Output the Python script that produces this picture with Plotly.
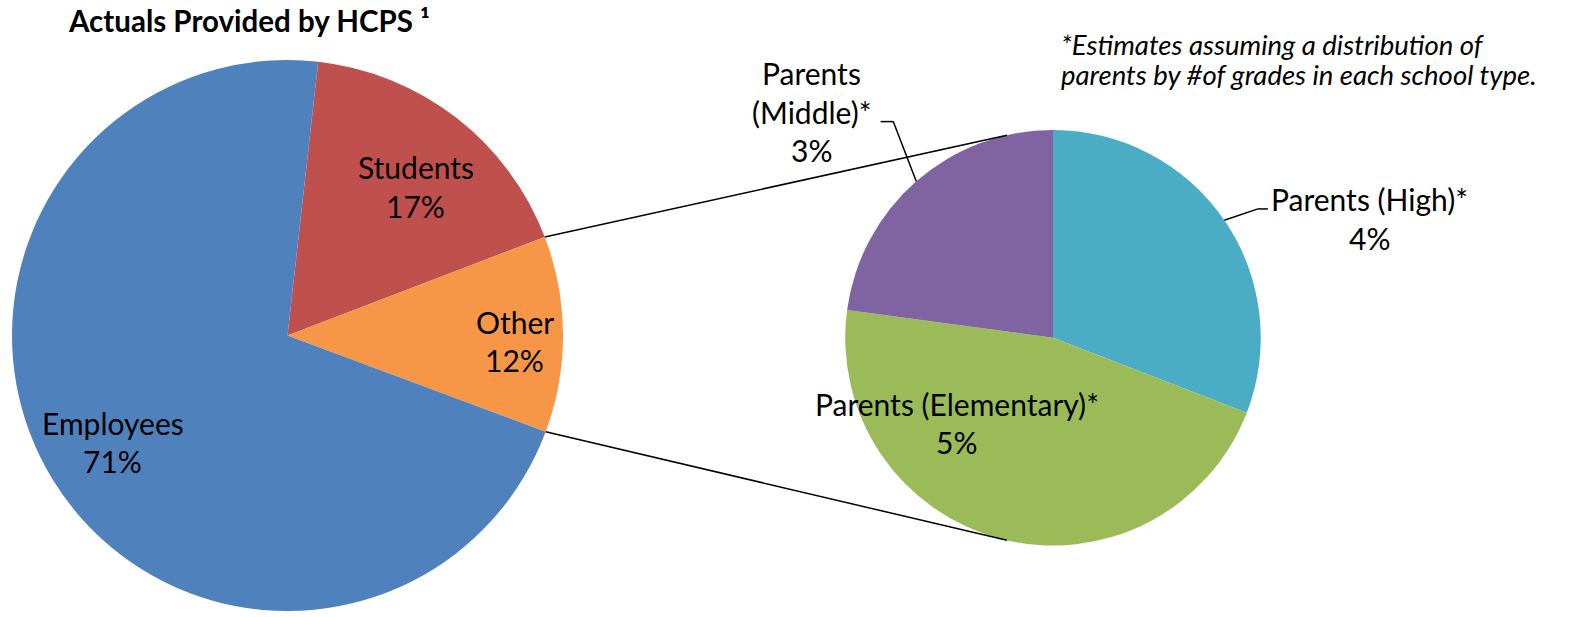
import math
import plotly.graph_objects as go

W, H = 1577, 617

# ---------------- data ----------------
main_labels = ["Students", "Other", "Employees"]
main_values = [17.4, 11.5, 71.1]          # % of all
main_colors = ["#C0504D", "#F79646", "#4F81BD"]

sub_labels = ["Parents (High)*", "Parents (Elementary)*", "Parents (Middle)*"]
sub_label_lines = [["Parents (High)*"], ["Parents (Elementary)*"], ["Parents", "(Middle)*"]]
sub_values = [3.55, 5.32, 2.63]           # % of all (breakdown of "Other")
sub_colors = ["#4BACC6", "#9BBB59", "#8064A2"]

title_text = "Actuals Provided by HCPS ¹"
note_lines = ["*Estimates assuming a distribution of",
              "parents by #of grades in each school type."]

# ---------------- layout / style ----------------
FONT = "Lato, Carlito, Calibri, sans-serif"
LABEL_SIZE = 30
LINE_GAP = 38.5
MAIN_DOMAIN = dict(x=[12 / W, 563 / W], y=[6 / H, 557 / H])
SUB_DOMAIN = dict(x=[845 / W, 1261 / W], y=[71.5 / H, 487 / H])
MAIN_ROT = 6.4
SUB_ROT = 0.0
CONNECT_SUB_ANGLE = 12.8
# label placement relative to slice mid angle: (angle offset deg, radius fraction)
main_label_pos = [(3.0, 0.713), (1.7, 0.826), (0.2, 0.744)]
sub_label_pos = [(13.8, 1.63), (34.1, 0.618), (-5.7, 1.59)]
# leader lines for outside labels: (elbow dx, dy), (end dx, dy) relative to label center
sub_leaders = [((-112, -9.5), (-102, -9.5)), None, ((81.3, 9.7), (68.7, 9.7))]


def geom(domain):
    x0, x1 = domain["x"]
    y0, y1 = domain["y"]
    w = W * (x1 - x0)
    h = H * (y1 - y0)
    r = min(w, h) / 2
    cx = W * (x0 + x1) / 2
    cy = H * (1 - y0) - h / 2
    return cx, cy, r


def slice_angles(values, rotation):
    tot = sum(values)
    a = rotation
    out = []
    for v in values:
        b = a + v / tot * 360
        out.append((a, b))
        a = b
    return out


def pt(cx, cy, rr, ang):
    t = math.radians(ang)
    return cx + rr * math.sin(t), cy - rr * math.cos(t)


def px2paper(x, y):
    return x / W, 1 - y / H


fig = go.Figure()
fig.add_trace(go.Pie(
    labels=main_labels, values=main_values, sort=False, direction="clockwise",
    rotation=MAIN_ROT, domain=MAIN_DOMAIN, textinfo="none",
    marker=dict(colors=main_colors, line=dict(width=0)), showlegend=False,
))
fig.add_trace(go.Pie(
    labels=sub_labels, values=sub_values, sort=False, direction="clockwise",
    rotation=SUB_ROT, domain=SUB_DOMAIN, textinfo="none",
    marker=dict(colors=sub_colors, line=dict(width=0)), showlegend=False,
))

shapes = []
annotations = []

mcx, mcy, mr = geom(MAIN_DOMAIN)
scx, scy, sr = geom(SUB_DOMAIN)
m_ang = slice_angles(main_values, MAIN_ROT)
s_ang = slice_angles(sub_values, SUB_ROT)


def add_line(p1, p2):
    x1, y1 = px2paper(*p1)
    x2, y2 = px2paper(*p2)
    shapes.append(dict(type="line", xref="paper", yref="paper", x0=x1, y0=y1, x1=x2, y1=y2,
                       line=dict(color="black", width=1.5)))


def add_text(x, y, text, size=LABEL_SIZE, xanchor="center", italic=False, bold=False):
    xp, yp = px2paper(x, y)
    if bold:
        text = "<b>" + text + "</b>"
    if italic:
        text = "<i>" + text + "</i>"
    annotations.append(dict(x=xp, y=yp, xref="paper", yref="paper", text=text,
                            showarrow=False, xanchor=xanchor, yanchor="middle",
                            font=dict(family=FONT, size=size, color="black")))


def add_label(cx, cy, lines):
    n = len(lines)
    for i, ln in enumerate(lines):
        add_text(cx, cy + (i - (n - 1) / 2) * LINE_GAP, ln)


# connector lines between "Other" slice and the breakdown pie
oi = main_labels.index("Other")
a0, a1 = m_ang[oi]
add_line(pt(mcx, mcy, mr, a0), pt(scx, scy, sr, -CONNECT_SUB_ANGLE))
add_line(pt(mcx, mcy, mr, a1), pt(scx, scy, sr, 180 + CONNECT_SUB_ANGLE))

# main pie labels
for (a, b), lab, v, (off, rf) in zip(m_ang, main_labels, main_values, main_label_pos):
    mid = (a + b) / 2
    x, y = pt(mcx, mcy, mr * rf, mid + off)
    add_label(x, y, [lab, f"{v:.0f}%"])

# sub pie labels
for (a, b), lines, v, (off, rf), lead in zip(s_ang, sub_label_lines, sub_values, sub_label_pos, sub_leaders):
    mid = (a + b) / 2
    x, y = pt(scx, scy, sr * rf, mid + off)
    add_label(x, y, lines + [f"{v:.0f}%"])
    if lead:
        start = pt(scx, scy, sr, mid)
        elbow = (x + lead[0][0], y + lead[0][1])
        end = (x + lead[1][0], y + lead[1][1])
        add_line(start, elbow)
        add_line(elbow, end)

# title and note
add_text(66, 21, title_text, size=29.5, xanchor="left", bold=True)
for i, ln in enumerate(note_lines):
    add_text(1059, 45 + i * 29, ln, size=27.5, xanchor="left", italic=True)

fig.update_layout(
    width=W, height=H,
    margin=dict(l=0, r=0, t=0, b=0),
    paper_bgcolor="white", plot_bgcolor="white",
    shapes=shapes, annotations=annotations,
    font=dict(family=FONT),
)

fig.write_html("out.html", config={"displayModeBar": False},
               post_script="document.body.style.margin='0px';")
